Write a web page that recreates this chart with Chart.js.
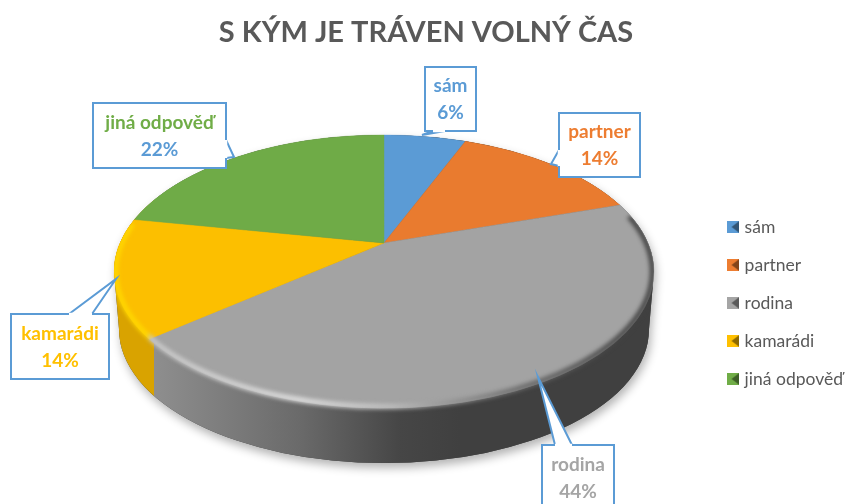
<!DOCTYPE html>
<html>
<head>
<meta charset="utf-8">
<style>
	html, body { margin: 0; padding: 0; background: #fff; }
	#wrap { width: 849px; height: 504px; overflow: hidden; }
</style>
<script src="https://cdn.jsdelivr.net/npm/chart.js@4"></script>
</head>
<body>
<div id="wrap"><canvas id="chart" width="849" height="504"></canvas></div>
<script>
const chartTitle = 'S KÝM JE TRÁVEN VOLNÝ ČAS';
const categories = ['sám', 'partner', 'rodina', 'kamarádi', 'jiná odpověď'];
const shares = [6, 14, 44, 14, 22];
const sliceColors = ['#5B9BD5', '#ED7D31', '#A5A5A5', '#FFC000', '#70AD47'];
const faceColors = ['#5B9BD5', '#E97B2F', '#A3A3A3', '#FCBF00', '#6FAB47'];
const percentColors = ['#5B9BD5', '#ED7D31', '#A5A5A5', '#FFC000', '#5B9BD5'];

// perspective of the tilted pie, measured on the reference
const view = { x: 384, y: 243, a: 130.6, b: 264, p: 0.209, depth: 58 };

// callouts: box and the tip of the pointer with its base on the box edge
const callouts = [
	{ box: [425, 67, 51, 64], tip: [422, 135], base: [[433, 131], [445, 131]] },
	{ box: [559, 113, 81, 64], tip: [551, 164], base: [[559, 150], [559, 166]] },
	{ box: [542, 445, 72, 66], tip: [538, 377], base: [[555, 445], [572, 445]] },
	{ box: [11, 314, 98, 65], tip: [116, 279], base: [[69, 314], [92, 314]] },
	{ box: [93, 103, 133, 65], tip: [234, 157], base: [[226, 140], [226, 158]] },
];

// top and bottom rim of the pie as ellipses
function rimEllipse() {
	const top = view.y - view.a / (1 + view.p);
	const bottom = view.y + view.a / (1 - view.p);
	return {
		x: view.x,
		y: (top + bottom) / 2,
		rx: view.b / Math.sqrt(1 - view.p * view.p),
		ry: (bottom - top) / 2,
	};
}

function project(share) {
	const angle = (share / 100) * Math.PI * 2;
	const u = Math.sin(angle);
	const v = -Math.cos(angle);
	const s = 1 / (1 - view.p * v);
	return { x: view.x + view.b * u * s, y: view.y + view.a * v * s };
}

// outline of the whole solid, upper rim plus the wall under it
function silhouette(ctx) {
	const rim = rimEllipse();
	const low = { y: rim.y + view.depth, rx: rim.rx - 5, ry: rim.ry - 3 };
	ctx.beginPath();
	ctx.ellipse(rim.x, rim.y, rim.rx, rim.ry, 0, Math.PI, 0);
	ctx.lineTo(rim.x + low.rx, low.y);
	ctx.ellipse(rim.x, low.y, low.rx, low.ry, 0, 0, Math.PI);
	ctx.closePath();
}

function drawWall(ctx) {
	const rim = rimEllipse();
	const left = rim.x - rim.rx;
	const width = rim.rx * 2;
	const split = project(shares[0] + shares[1] + shares[2]).x + 5;
	const at = (x) => Math.min(1, Math.max(0, (x - left) / width));

	ctx.save();
	ctx.shadowColor = 'rgba(0,0,0,0.3)';
	ctx.shadowBlur = 10;
	ctx.shadowOffsetX = 2;
	ctx.shadowOffsetY = 5;
	ctx.fillStyle = '#404040';
	silhouette(ctx);
	ctx.fill();
	ctx.restore();

	const g = ctx.createLinearGradient(left, 0, left + width, 0);
	g.addColorStop(0, '#D9A300');
	g.addColorStop(at(split) - 0.001, '#D9A300');
	g.addColorStop(at(split), '#8E8E8E');
	g.addColorStop(at(300), '#6A6A6A');
	g.addColorStop(at(400), '#464646');
	g.addColorStop(at(460), '#404040');
	g.addColorStop(1, '#404040');
	ctx.fillStyle = g;
	silhouette(ctx);
	ctx.fill();
}

// the library's arcs, drawn row by row through the perspective
function drawFace(ctx, arcs) {
	const rim = rimEllipse();
	const R = arcs[0].outerRadius;
	const first = Math.floor(rim.y - rim.ry) - 1;
	const last = Math.ceil(rim.y + rim.ry) + 1;
	for (let y = first; y < last; y++) {
		const d = y + 0.5 - view.y;
		const v = d / (view.a + view.p * d);
		const s = 1 / (1 - view.p * v);
		const kx = (view.b * s) / R;
		const ky = (view.a * s * s) / R;
		ctx.save();
		ctx.beginPath();
		ctx.rect(0, y, 849, 1);
		ctx.clip();
		arcs.forEach((arc) => {
			ctx.save();
			ctx.setTransform(kx, 0, 0, ky, view.x - kx * arc.x, view.y + d - ky * (arc.y + v * R));
			arc.draw(ctx);
			ctx.restore();
		});
		ctx.restore();
	}
}

function drawRim(ctx) {
	const rim = rimEllipse();
	const left = rim.x - rim.rx;
	const width = rim.rx * 2;
	const split = project(shares[0] + shares[1] + shares[2]).x;
	const at = (x) => Math.min(1, Math.max(0, (x - left) / width));

	const g = ctx.createLinearGradient(left, 0, left + width, 0);
	g.addColorStop(0, '#FFD800');
	g.addColorStop(at(split) - 0.001, '#FFD800');
	g.addColorStop(at(split), '#C8C8C8');
	g.addColorStop(at(300), '#E0E0E0');
	g.addColorStop(at(390), '#BEBEBE');
	g.addColorStop(at(440), '#9A9A9A');
	g.addColorStop(at(520), '#6A6A6A');
	g.addColorStop(at(620), '#444444');
	g.addColorStop(1, '#404040');

	ctx.save();
	silhouette(ctx);
	ctx.clip();
	ctx.filter = 'blur(2px)';
	ctx.strokeStyle = g;
	ctx.lineWidth = 5;
	ctx.beginPath();
	ctx.ellipse(rim.x, rim.y, rim.rx - 1.5, rim.ry - 1.5, 0, -0.42, Math.PI + 0.36);
	ctx.stroke();
	ctx.restore();
}

function drawCallouts(ctx) {
	callouts.forEach((c, i) => {
		const [x, y, w, h] = c.box;
		ctx.save();
		ctx.fillStyle = '#fff';
		ctx.strokeStyle = '#5B9BD5';
		ctx.lineWidth = 2;
		ctx.beginPath();
		ctx.rect(x, y, w, h);
		ctx.fill();
		ctx.stroke();
		ctx.beginPath();
		ctx.moveTo(c.base[0][0], c.base[0][1]);
		ctx.lineTo(c.tip[0], c.tip[1]);
		ctx.lineTo(c.base[1][0], c.base[1][1]);
		ctx.fill();
		ctx.stroke();
		// close the box edge under the pointer with white
		ctx.strokeStyle = '#fff';
		ctx.lineWidth = 2.5;
		ctx.beginPath();
		ctx.moveTo(c.base[0][0], c.base[0][1]);
		ctx.lineTo(c.base[1][0], c.base[1][1]);
		ctx.stroke();

		ctx.font = 'bold 19px Lato';
		ctx.textAlign = 'center';
		ctx.textBaseline = 'middle';
		ctx.fillStyle = sliceColors[i];
		ctx.fillText(categories[i], x + w / 2, y + h / 2 - 13);
		ctx.fillStyle = percentColors[i];
		ctx.fillText(shares[i] + '%', x + w / 2, y + h / 2 + 14);
		ctx.restore();
	});
}

function legendMarker(color) {
	const size = 12;
	const c = document.createElement('canvas');
	c.width = size;
	c.height = size;
	const m = c.getContext('2d');
	m.fillStyle = color;
	m.fillRect(0, 0, size, size);
	m.fillStyle = 'rgba(0,0,0,0.45)';
	m.beginPath();
	m.moveTo(size, 0);
	m.lineTo(size * 0.35, size / 2);
	m.lineTo(size, size);
	m.fill();
	return c;
}

const pie3d = {
	id: 'pie3d',
	beforeDatasetDraw(chart) {
		const ctx = chart.ctx;
		drawWall(ctx);
		drawFace(ctx, chart.getDatasetMeta(0).data);
		drawRim(ctx);
		drawCallouts(ctx);
		return false;
	},
};

new Chart(document.getElementById('chart'), {
	type: 'pie',
	data: {
		labels: categories,
		datasets: [
			{
				data: shares,
				backgroundColor: faceColors,
				borderColor: faceColors,
				borderWidth: 0.5,
			},
		],
	},
	options: {
		responsive: false,
		animation: false,
		layout: { padding: { left: -1, right: -4 } },
		plugins: {
			tooltip: { enabled: false },
			title: {
				display: true,
				text: chartTitle,
				color: '#595959',
				font: { family: 'Lato', size: 29, weight: 'bold' },
				padding: { top: 15, bottom: 52 },
			},
			legend: {
				position: 'right',
				fullSize: false,
				labels: {
					color: '#595959',
					font: { family: 'Lato', size: 17.5 },
					usePointStyle: true,
					pointStyleWidth: 5,
					padding: 20.5,
					generateLabels(chart) {
						const items = Chart.overrides.pie.plugins.legend.labels.generateLabels(chart);
						items.forEach((item, i) => {
							item.pointStyle = legendMarker(sliceColors[i]);
						});
						return items;
					},
				},
			},
		},
	},
	plugins: [pie3d],
});
</script>
</body>
</html>
